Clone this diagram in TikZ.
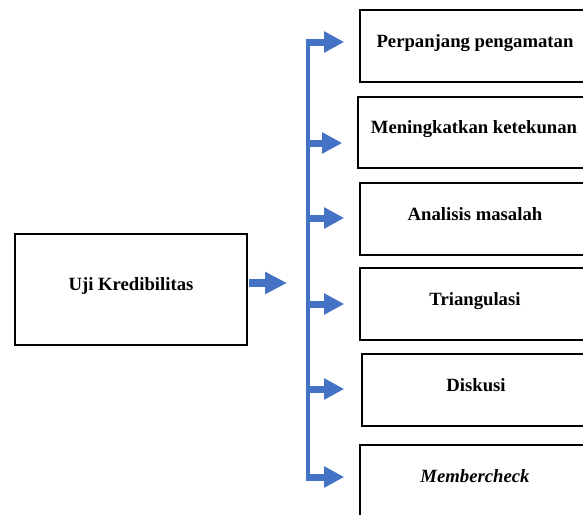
\documentclass[tikz,border=0pt]{standalone}
\usepackage{fontspec}
\setmainfont{Liberation Serif}
\usetikzlibrary{arrows.meta}
\definecolor{arrowblue}{HTML}{4472C4}
\begin{document}
\begin{tikzpicture}[x=1pt,y=-1pt,
  box/.style={draw=black, line width=1.6pt, minimum width=230pt, minimum height=72pt, inner sep=0pt,
    font=\fontsize{18.7}{22}\selectfont\bfseries, text height=10pt, text depth=8pt},
  bigarrow/.style={draw=arrowblue, line width=8pt, -{Triangle[length=22pt,width=21pt]}},
  branch/.style={draw=arrowblue, line width=7pt, -{Triangle[length=20pt,width=20pt]}},
  bus/.style={draw=arrowblue, line width=4pt}]
\useasboundingbox (0,0) rectangle (583,514);
\node[box, minimum width=232pt, minimum height=111pt] (uji) at (131,289.5) {Uji Kredibilitas};
\node[box] (b1) at (475,46) {Perpanjang pengamatan};
\node[box, minimum width=232pt, minimum height=71pt] (b2) at (474,132.5) {Meningkatkan ketekunan};
\node[box] (b3) at (475,219) {Analisis masalah};
\node[box] (b4) at (475,304) {Triangulasi};
\node[box, minimum width=228pt] (b5) at (476,390) {Diskusi};
\node[box] (b6) at (475,481) {\textit{Membercheck}};
% main arrow
\coordinate (hub) at (287,283);
\draw[bigarrow] (uji.east |- hub) ++(1,0) -- (hub);
% bus
\coordinate (bustop) at (308,38.5);
\coordinate (busbot) at (308,480.5);
\draw[bus] (bustop) -- (busbot);
% branch starts
\coordinate (s1) at (306,42);
\coordinate (s2) at (306,143);
\coordinate (s3) at (306,218);
\coordinate (s4) at (306,304);
\coordinate (s5) at (306,389);
\coordinate (s6) at (306,477);
\draw[branch, shorten >=15pt] (s1) -- (b1.west |- s1);
\draw[branch, shorten >=15pt] (s2) -- (b2.west |- s2);
\draw[branch, shorten >=15pt] (s3) -- (b3.west |- s3);
\draw[branch, shorten >=15pt] (s4) -- (b4.west |- s4);
\draw[branch, shorten >=17pt] (s5) -- (b5.west |- s5);
\draw[branch, shorten >=15pt] (s6) -- (b6.west |- s6);
\end{tikzpicture}
\end{document}
